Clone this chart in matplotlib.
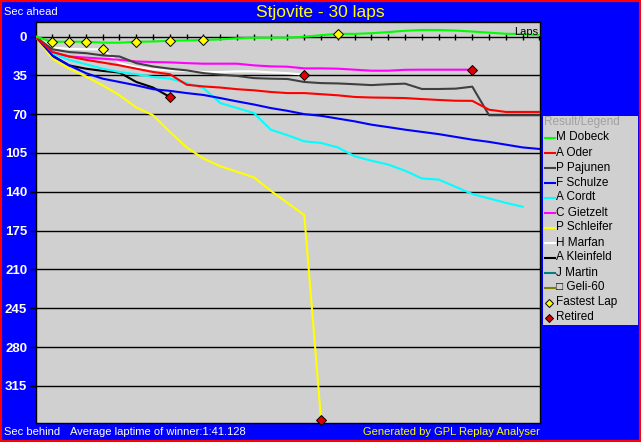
import matplotlib
matplotlib.use("Agg")
import matplotlib.pyplot as plt
from matplotlib.patches import Rectangle
import numpy as np

plt.rcParams['font.family'] = ['Liberation Sans', 'DejaVu Sans']

# ---------------- data ----------------
drivers = ["M Dobeck", "A Oder", "P Pajunen", "F Schulze", "A Cordt", "C Gietzelt",
           "P Schleifer", "H Marfan", "A Kleinfeld", "J Martin", "\u25a1 Geli-60"]
colors = ["#00ff00", "#ff0000", "#404040", "#0000ff", "#00ffff", "#ff00ff",
          "#ffff00", "#ffffff", "#000000", "#008080", "#808000"]

dobeck = [0, 4.7, 4.7, 4.7, 5.5, 5.6, 4.7, 4.5, 3.8, 3.5, 3.2, 2.6, 1.6, 1.1, 1.1, 1.0,
          0.2, -1.2, -2.4, -2.4, -3.0, -4.0, -5.2, -5.9, -5.9, -5.4, -4.5, -3.5, -2.5, -2.2, -1.2]
oder = [0, 14, 18, 21, 23.5, 26, 29, 32, 34, 43.5, 45, 46, 47.5, 48.5, 50, 51, 51, 52, 53,
        54.5, 55, 55.2, 55.5, 56.4, 57.2, 57.9, 58, 66, 68, 68, 68]
pajunen = [0, 11.5, 14, 15, 17, 18, 24, 27, 29, 30.5, 33, 34.4, 35.5, 37.5, 38, 38.3, 41, 42,
           42.3, 43, 43.8, 43.0, 42.5, 47.3, 47.3, 47.0, 45.2, 71, 71, 71, 71]
schulze = [0, 17, 26, 33, 38, 41, 44, 47.5, 49, 51, 52.7, 55.5, 58.5, 61.3, 64.5, 67, 70, 71.5,
           74, 76.5, 79.5, 81.7, 84, 86, 88, 90.5, 93, 95, 97.5, 100, 101.4]
cordt = [0, 15, 21, 25, 29, 32, 34, 36.5, 38, 42, 46.5, 60, 64.5, 69, 84, 89, 94.5, 96, 100,
         108, 112, 115.5, 121, 128, 129, 135.5, 142, 146, 150, 153.5]
gietzelt = [0, 14, 18, 19, 20, 21, 22.5, 23, 23.3, 24, 24.5, 24.5, 24.5, 26, 26.9, 27.2, 28.7,
            28.7, 29, 29.9, 30.8, 30.8, 30, 29.9, 29.9, 29.9, 29.9]
schleifer = [0, 20, 29, 36, 44, 53, 64, 71, 86, 100, 110, 117, 122, 127, 139, 150, 161, 346]
marfan = [0, 10, 11, 11.5, 11.5, 24, 27.5, 29.5, 30.5, 31, 32, 32, 31.4, 31.4, 32.3, 33, 34.4]
kleinfeld = [0, 17.5, 26, 29, 31, 32.5, 41, 46, 54.5]
martin = []
geli = []

series = [dobeck, oder, pajunen, schulze, cordt, gietzelt, schleifer, marfan, kleinfeld, martin, geli]
retired = ["C Gietzelt", "P Schleifer", "H Marfan", "A Kleinfeld"]
fastest_laps = [("M Dobeck", 1), ("M Dobeck", 2), ("M Dobeck", 3), ("H Marfan", 4),
                ("M Dobeck", 6), ("M Dobeck", 8), ("M Dobeck", 10), ("M Dobeck", 18)]

total_laps = 30
yticks = list(range(0, 316, 35))

# ---------------- figure ----------------
W, H = 641, 442
fig = plt.figure(figsize=(W / 100, H / 100), dpi=100, facecolor="#0000ff")

def fx(px):
    return px / W

def fy(py):
    return 1 - py / H

ax = fig.add_axes([fx(35.5), fy(423), fx(540) - fx(35.5), fy(22) - fy(423)])
ax.set_facecolor("#d0d0d0")
for s in ax.spines.values():
    s.set_color("black")
    s.set_linewidth(1)

ax.set_xlim(0, 30.03)
ax.set_ylim(348.5, -13.1)
ax.set_xticks([])
ax.set_yticks(yticks)
ax.set_yticklabels([str(v) for v in yticks], color="white", fontweight="bold", fontsize=9.5)
ax.tick_params(axis="y", direction="out", length=4, width=1, color="black", pad=2)
for v in yticks:
    ax.axhline(v, color="black", lw=1, zorder=1)

# laps axis ticks
lap_ticks = np.arange(1, total_laps + 1)
ax.plot(lap_ticks, np.zeros(len(lap_ticks)), ls="none", marker="|", ms=5, mew=1,
        color="black", zorder=2)

# driver lines (draw so first driver ends up on top)
for name, vals, c, z in zip(drivers[::-1], series[::-1], colors[::-1], range(len(drivers))):
    if len(vals) == 0:
        continue
    ax.plot(np.arange(len(vals)), vals, color=c, lw=1.5, zorder=3 + z * 0.1)

lookup = dict(zip(drivers, series))
for name in retired:
    vals = lookup[name]
    ax.plot(len(vals) - 1, vals[-1], marker="D", ms=5.5, mfc="#dd0000", mec="black",
            mew=0.7, zorder=6, clip_on=False)
for name, lap in fastest_laps:
    ax.plot(lap, lookup[name][lap], marker="D", ms=5.5, mfc="#ffff00", mec="black",
            mew=0.7, zorder=6)

ax.text(29.95, 0.5, "Laps", ha="right", va="bottom", fontsize=8, color="black",
        transform=ax.transData, zorder=5)

# ---------------- texts ----------------
fig.text(fx(4), fy(12), "Sec ahead", color="white", fontsize=8, va="center", ha="left")
fig.text(fx(320), fy(13), "Stjovite - 30 laps", color="#ffff00", fontsize=12.5,
         va="center", ha="center")
fig.text(fx(4), fy(432), "Sec behind", color="white", fontsize=8, va="center", ha="left")
fig.text(fx(70), fy(432), "Average laptime of winner:1:41.128", color="white",
         fontsize=8, va="center", ha="left")
fig.text(fx(540), fy(432), "Generated by GPL Replay Analyser", color="#ffff00",
         fontsize=8, va="center", ha="right")

# ---------------- legend ----------------
lx0, lx1, ly0, ly1 = 543, 638, 116, 325
lax = fig.add_axes([fx(lx0), fy(ly1), fx(lx1) - fx(lx0), fy(ly0) - fy(ly1)])
lax.set_facecolor("#d0d0d0")
lax.set_xlim(lx0, lx1)
lax.set_ylim(ly1, ly0)
lax.set_xticks([])
lax.set_yticks([])
for s in lax.spines.values():
    s.set_visible(False)

lax.text(544, 122.5, "Result/Legend", color="#a0a0a0", fontsize=8.5, va="center", ha="left")
row_y = 137.5
for name, c in zip(drivers, colors):
    lax.plot([545, 555], [row_y, row_y], color=c, lw=1.5)
    lax.text(556, row_y, name, color="black", fontsize=8.5, va="center", ha="left")
    row_y += 15
lax.plot(549, row_y, marker="D", ms=4.5, mfc="#ffff00", mec="black", mew=0.7)
lax.text(556, row_y, "Fastest Lap", color="black", fontsize=8.5, va="center", ha="left")
row_y += 15
lax.plot(549, row_y, marker="D", ms=4.5, mfc="#dd0000", mec="black", mew=0.7)
lax.text(556, row_y, "Retired", color="black", fontsize=8.5, va="center", ha="left")

# red frame
fig.patches.append(Rectangle((0, 0), 1, 1, transform=fig.transFigure, fill=False,
                             ec="#ff0000", lw=3))

fig.savefig("out.png", dpi=100, facecolor=fig.get_facecolor())
